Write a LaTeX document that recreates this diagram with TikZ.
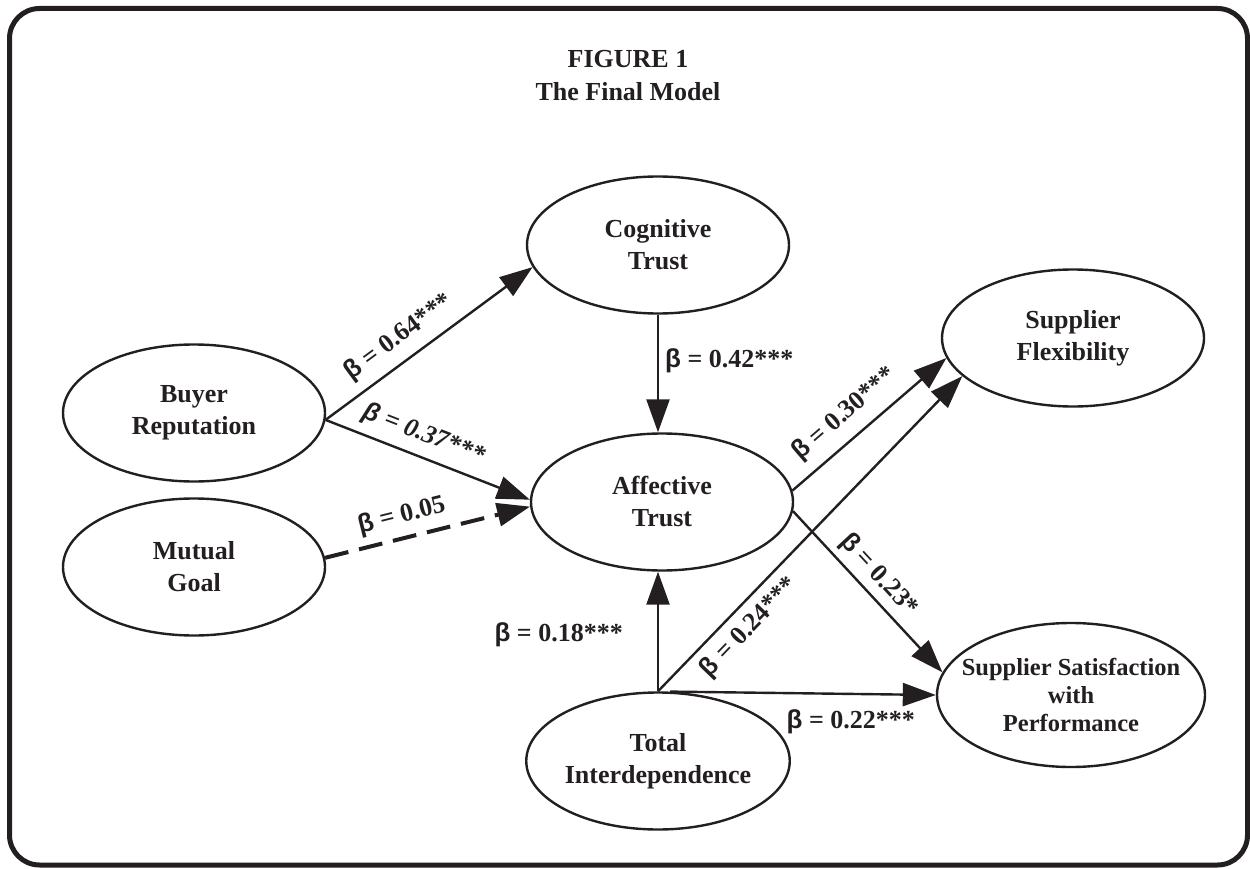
\documentclass[tikz,border=0pt]{standalone}
\usepackage{fontspec}
\setmainfont{Liberation Serif}
\newfontfamily\betafont{Liberation Sans}
\usetikzlibrary{shapes.geometric,arrows.meta}
\definecolor{ink}{HTML}{231F20}
\newcommand{\bet}{{\betafont\bfseries β}}

\begin{document}
\begin{tikzpicture}[x=1pt,y=-1pt,
  every node/.style={text=ink},
  heading/.style={font=\fontsize{26}{32}\selectfont\bfseries, inner sep=0pt},
  construct/.style={ellipse, draw=ink, line width=2.4pt,
    minimum width=262pt, minimum height=137pt, inner sep=0pt,
    align=center, font=\fontsize{26}{32}\selectfont\bfseries},
  link/.style={draw=ink, line width=2.4pt,
    -{Triangle[length=33pt,width=23pt]}},
  weak/.style={link, line width=4pt, dash pattern=on 24pt off 11pt},
  coef/.style={font=\fontsize{26}{30}\selectfont\bfseries, inner sep=0pt},
]
\useasboundingbox (0,0) rectangle (1250,869);

% outer frame
\draw[ink, line width=5pt, rounded corners=30pt] (9.5,8.5) rectangle (1247.5,865);

% heading
\node[heading, anchor=base] (fig) at (628,68) {FIGURE 1};
\node[heading, anchor=base] (cap) at (628,101) {The Final Model};

% constructs
\node[construct] (C) at (658,245) {Cognitive\\Trust};
\node[construct] (B) at (194,413) {Buyer\\Reputation};
\node[construct] (M) at (194,567) {Mutual\\Goal};
\node[construct] (A) at (662,502) {Affective\\Trust};
\node[construct] (F) at (1073,338) {Supplier\\Flexibility};
\node[construct, minimum width=268pt, minimum height=144pt, inner xsep=-15pt,
      font=\fontsize{24.5}{28}\selectfont\bfseries] (S) at (1071,695)
      {Supplier Satisfaction\\with\\Performance};
\node[construct] (T) at (658,761) {Total\\Interdependence};

% paths with standardized coefficients
\draw[link] (B.-3) -- node[coef, sloped, above=10pt, pos=0.42] (l64)
  {\bet{} = 0.64***} (C.190);
\draw[link] (B.-3) -- node[coef, sloped, above=9pt, pos=0.44,
  font=\fontsize{26}{30}\selectfont\bfseries\itshape] (l37)
  {\bet{} = 0.37***} (A.179);
\draw[weak] (M.4) -- node[coef, sloped, above=8pt, pos=0.40] (l05)
  {\bet{} = 0.05} (A.182);
\draw[link] (C.south) -- node[coef, right=6pt, pos=0.39] (l42)
  {\bet{} = 0.42***} (C.south |- A.north);
\draw[link] (T.north) -- node[coef, left=34pt, pos=0.47] (l18)
  {\bet{} = 0.18***} (T.north |- A.south);
\draw[link] (A.5) -- node[coef, sloped, above=11pt, pos=0.44] (l30)
  {\bet{} = 0.30***} (F.189);
\draw[link] (T.north) -- node[coef, sloped, below=8pt, pos=0.25] (l24)
  {\bet{} = 0.24***} (F.199);
\draw[link] (A.-4) -- node[coef, sloped, above=6pt, pos=0.48] (l23)
  {\bet{} = 0.23*} (S.170);
\draw[link] (T.80) -- node[coef, below=15pt, pos=0.68] (l22)
  {\bet{} = 0.22***} (S.west);
\end{tikzpicture}
\end{document}
